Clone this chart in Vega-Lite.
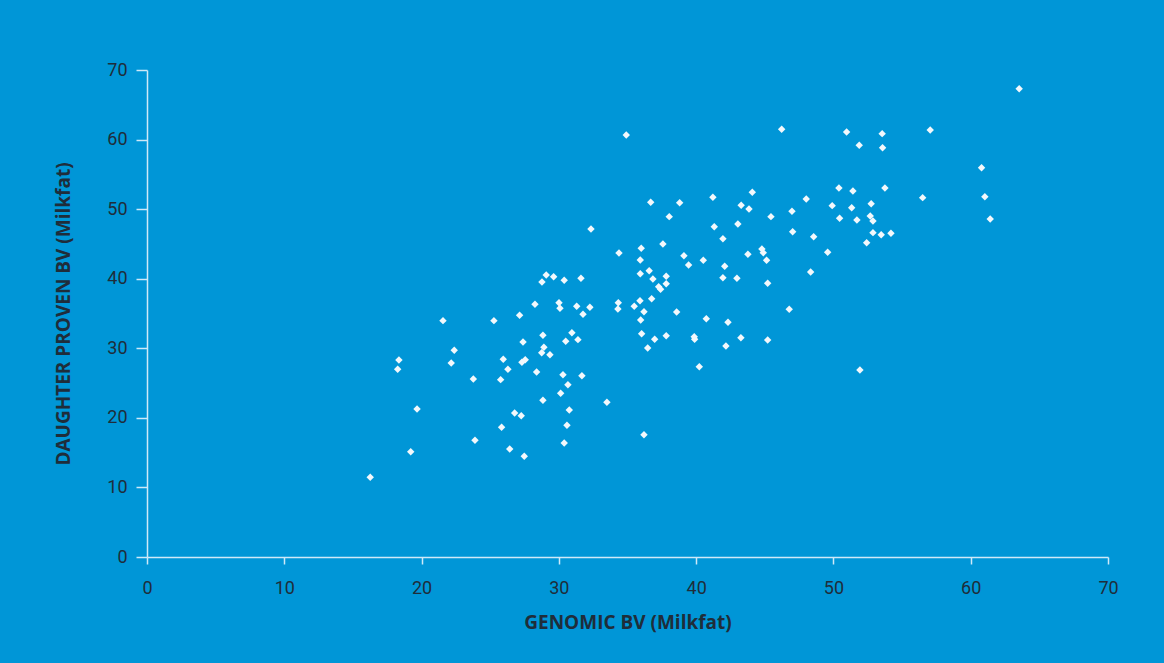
{
  "$schema": "https://vega.github.io/schema/vega-lite/v6.json",
  "width": 961,
  "height": 487,
  "autosize": {"type": "none"},
  "padding": {"left": 147, "top": 70, "right": 56, "bottom": 106},
  "background": "#0096d7",
  "config": {
    "view": {"stroke": null},
    "axis": {
      "grid": false,
      "labelFlush": false,
      "domainColor": "#cfe9f8",
      "domainWidth": 1.5,
      "tickColor": "#cfe9f8",
      "tickWidth": 1.5,
      "labelFont": "Roboto",
      "labelFontSize": 18,
      "labelColor": "#1f2d3a",
      "titleFont": "Open Sans",
      "titleFontSize": 19,
      "titleFontWeight": "bold",
      "titleColor": "#1f2d3a"
    }
  },
  "data": {
    "values": [
      {"g": 16.26, "d": 11.46}, {"g": 19.21, "d": 15.14}, {"g": 19.67, "d": 21.27}, {"g": 18.35, "d": 28.32},
      {"g": 18.26, "d": 26.98}, {"g": 21.56, "d": 33.97}, {"g": 22.38, "d": 29.71}, {"g": 22.16, "d": 27.89},
      {"g": 23.77, "d": 25.59}, {"g": 23.89, "d": 16.77}, {"g": 25.27, "d": 33.97}, {"g": 25.95, "d": 28.42},
      {"g": 26.29, "d": 26.98}, {"g": 25.76, "d": 25.49}, {"g": 25.83, "d": 18.64}, {"g": 26.42, "d": 15.52},
      {"g": 27.14, "d": 34.74}, {"g": 27.39, "d": 30.9}, {"g": 27.31, "d": 27.99}, {"g": 27.55, "d": 28.36},
      {"g": 26.78, "d": 20.7}, {"g": 27.26, "d": 20.31}, {"g": 27.48, "d": 14.47}, {"g": 28.26, "d": 36.32},
      {"g": 28.77, "d": 39.53}, {"g": 29.08, "d": 40.53}, {"g": 29.62, "d": 40.29}, {"g": 30.39, "d": 39.77},
      {"g": 31.61, "d": 40.06}, {"g": 28.84, "d": 31.87}, {"g": 28.91, "d": 30.14}, {"g": 28.75, "d": 29.37},
      {"g": 29.35, "d": 29.08}, {"g": 28.38, "d": 26.59}, {"g": 28.84, "d": 22.52}, {"g": 30.01, "d": 36.55},
      {"g": 30.08, "d": 35.75}, {"g": 31.3, "d": 36.04}, {"g": 32.26, "d": 35.89}, {"g": 31.76, "d": 34.89},
      {"g": 30.95, "d": 32.24}, {"g": 30.5, "d": 31.0}, {"g": 31.39, "d": 31.24}, {"g": 30.3, "d": 26.2},
      {"g": 31.68, "d": 26.06}, {"g": 30.66, "d": 24.77}, {"g": 30.13, "d": 23.53}, {"g": 30.76, "d": 21.13},
      {"g": 30.59, "d": 18.93}, {"g": 30.39, "d": 16.39}, {"g": 33.5, "d": 22.24}, {"g": 32.34, "d": 47.15},
      {"g": 34.38, "d": 43.7}, {"g": 36.0, "d": 44.37}, {"g": 37.58, "d": 44.99}, {"g": 35.93, "d": 42.69},
      {"g": 35.93, "d": 40.72}, {"g": 36.58, "d": 41.15}, {"g": 36.85, "d": 39.96}, {"g": 37.82, "d": 40.35},
      {"g": 37.27, "d": 38.85}, {"g": 37.41, "d": 38.48}, {"g": 37.82, "d": 39.28}, {"g": 34.33, "d": 36.55},
      {"g": 34.3, "d": 35.65}, {"g": 35.91, "d": 36.84}, {"g": 35.49, "d": 36.04}, {"g": 36.76, "d": 37.13},
      {"g": 36.2, "d": 35.26}, {"g": 35.96, "d": 34.07}, {"g": 36.03, "d": 32.1}, {"g": 36.98, "d": 31.29},
      {"g": 37.82, "d": 31.81}, {"g": 36.47, "d": 30.04}, {"g": 38.58, "d": 35.22}, {"g": 39.11, "d": 43.31},
      {"g": 39.45, "d": 41.97}, {"g": 40.52, "d": 42.65}, {"g": 40.74, "d": 34.25}, {"g": 39.86, "d": 31.67},
      {"g": 39.89, "d": 31.29}, {"g": 40.23, "d": 27.35}, {"g": 41.95, "d": 45.75}, {"g": 42.08, "d": 41.79},
      {"g": 41.95, "d": 40.15}, {"g": 42.97, "d": 40.06}, {"g": 42.32, "d": 33.74}, {"g": 42.17, "d": 30.33},
      {"g": 43.26, "d": 31.52}, {"g": 43.77, "d": 43.51}, {"g": 44.79, "d": 44.27}, {"g": 44.89, "d": 43.74},
      {"g": 45.13, "d": 42.65}, {"g": 45.21, "d": 39.34}, {"g": 45.21, "d": 31.19}, {"g": 46.78, "d": 35.6},
      {"g": 47.03, "d": 46.76}, {"g": 36.2, "d": 17.58}, {"g": 36.69, "d": 50.98}, {"g": 38.8, "d": 50.93},
      {"g": 38.04, "d": 48.92}, {"g": 41.22, "d": 51.7}, {"g": 44.09, "d": 52.42}, {"g": 43.28, "d": 50.55},
      {"g": 43.85, "d": 50.02}, {"g": 45.45, "d": 48.92}, {"g": 46.98, "d": 49.69}, {"g": 41.32, "d": 47.48},
      {"g": 43.04, "d": 47.87}, {"g": 34.91, "d": 60.66}, {"g": 46.23, "d": 61.48}, {"g": 50.96, "d": 61.09},
      {"g": 53.55, "d": 60.85}, {"g": 51.88, "d": 59.18}, {"g": 53.58, "d": 58.83}, {"g": 50.4, "d": 53.04},
      {"g": 51.42, "d": 52.61}, {"g": 53.75, "d": 53.04}, {"g": 48.02, "d": 51.46}, {"g": 49.91, "d": 50.5},
      {"g": 51.33, "d": 50.21}, {"g": 52.75, "d": 50.78}, {"g": 50.45, "d": 48.68}, {"g": 51.71, "d": 48.44},
      {"g": 52.68, "d": 49.02}, {"g": 52.88, "d": 48.3}, {"g": 48.56, "d": 46.04}, {"g": 52.88, "d": 46.62},
      {"g": 53.48, "d": 46.33}, {"g": 54.19, "d": 46.53}, {"g": 52.42, "d": 45.18}, {"g": 49.58, "d": 43.8},
      {"g": 48.34, "d": 40.97}, {"g": 51.93, "d": 26.88}, {"g": 63.53, "d": 67.31}, {"g": 57.05, "d": 61.38},
      {"g": 60.79, "d": 55.96}, {"g": 56.5, "d": 51.65}, {"g": 61.03, "d": 51.79}, {"g": 61.42, "d": 48.58}
    ]
  },
  "mark": {"type": "point", "shape": "diamond", "filled": true, "color": "#f2f8fc", "opacity": 1, "size": 55},
  "encoding": {
    "x": {
      "field": "g", "type": "quantitative",
      "scale": {"domain": [0, 70], "nice": false, "zero": true},
      "axis": {"values": [0, 10, 20, 30, 40, 50, 60, 70], "tickSize": 7, "labelPadding": 15, "title": "GENOMIC BV (Milkfat)", "titlePadding": 16}
    },
    "y": {
      "field": "d", "type": "quantitative",
      "scale": {"domain": [0, 70], "nice": false, "zero": true},
      "axis": {"values": [0, 10, 20, 30, 40, 50, 60, 70], "tickSize": 11, "labelPadding": 9, "title": "DAUGHTER PROVEN BV (Milkfat)", "titlePadding": 33}
    }
  }
}
